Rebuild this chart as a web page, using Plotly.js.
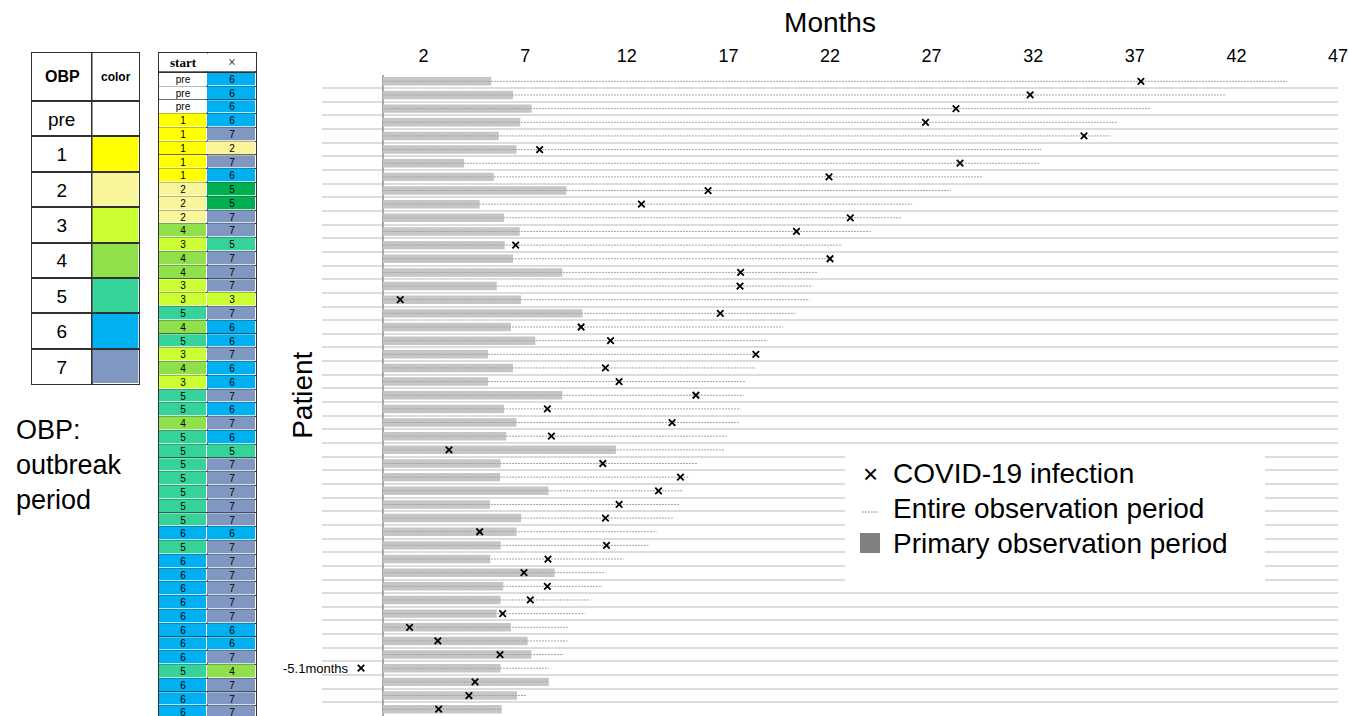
<!DOCTYPE html>
<html><head><meta charset="utf-8">
<script src="https://cdn.plot.ly/plotly-3.0.1.min.js"></script>
<style>html,body{margin:0;padding:0;background:#fff;overflow:hidden}#chart{width:1349px;height:716px}</style>
</head><body><div id="chart"></div>
<script>
// ---------- data ----------
const patients = [1,2,3,4,5,6,7,8,9,10,11,12,13,14,15,16,17,18,19,20,21,22,23,24,25,26,27,28,29,30,31,32,33,34,35,36,37,38,39,40,41,42,43,44,45,46,47];
// end of primary observation period (months)
const primaryEnd = [5.33,6.4,7.32,6.76,5.7,6.57,3.99,5.46,9.03,4.76,5.96,6.73,5.99,6.4,8.83,5.6,6.8,9.82,6.3,7.5,5.17,6.4,5.17,8.83,5.96,6.57,6.07,11.46,5.79,5.76,8.14,5.27,6.8,6.57,5.79,5.28,8.45,5.92,5.79,5.6,6.3,7.12,7.3,5.79,8.16,6.6,5.84];
// end of entire observation period (months)
const entireEnd = [44.5,41.5,37.8,36.15,35.8,32.4,32.3,29.5,27.95,26.05,25.5,24.0,22.6,22.1,21.4,21.15,21.0,20.3,19.7,18.93,18.4,18.34,17.85,17.76,17.6,17.57,16.94,16.83,15.48,15.07,14.78,14.61,14.27,13.46,13.07,11.84,10.95,10.8,10.21,9.92,9.11,9.08,8.9,8.17,8.16,7.06,5.84];
// month of COVID-19 infection (as plotted)
const infectionAt = [37.3,31.85,28.2,26.7,34.5,7.71,28.4,21.95,16.0,12.72,23.0,20.35,6.53,22.0,17.6,17.57,0.85,16.6,9.75,11.2,18.35,10.95,11.62,15.4,8.09,14.23,8.29,3.25,10.82,14.64,13.56,11.62,10.95,4.76,11.0,8.12,6.94,8.09,7.25,5.89,1.31,2.7,5.76,-1.08,4.53,4.23,2.74];
const infectionNotes = {44: '-5.1months'};
// outbreak period at start and at infection
const startOBP = ['pre','pre','pre','1','1','1','1','1','2','2','2','4','3','4','4','3','3','5','4','5','3','4','3','5','5','4','5','5','5','5','5','5','5','6','5','6','6','6','6','6','6','6','6','5','6','6','6'];
const infectionOBP = ['6','6','6','6','7','2','7','6','5','5','7','7','5','7','7','7','3','7','6','6','7','6','6','7','6','7','6','5','7','7','7','7','7','6','7','7','7','7','7','7','6','6','7','4','7','7','7'];
const infectionOBPDarkRows = [9, 10];
// OBP legend table
const obpLabels = ['pre','1','2','3','4','5','6','7'];
const obpColors = ['#ffffff','#ffff00','#f8f59b','#ccff33','#8fe04b','#35d399','#00b0f0','#8097c1'];
const darkGreen = '#00b050';
const monthTicks = [2,7,12,17,22,27,32,37,42,47];
const legendNames = ['COVID-19 infection','Entire observation period','Primary observation period'];

// ---------- helpers ----------
const W = 1349, H = 716;
const FONT = 'Liberation Sans, Arial, sans-serif';
const SERIF = 'Liberation Serif, Times New Roman, serif';
const px = v => v / W;
const py = v => 1 - v / H;
const palette = obpColors.concat([darkGreen]);
const cs = [];
palette.forEach((c, i) => { cs.push([i / palette.length, c]); cs.push([(i + 1) / palette.length, c]); });
const codeOf = l => obpLabels.indexOf(l);
const border = '#303030';

const hm = (o) => Object.assign({type:'heatmap', colorscale:cs, zmin:-0.5, zmax:palette.length-0.5,
  showscale:false, hoverinfo:'skip', showlegend:false, xgap:1, ygap:1,
  texttemplate:'%{text}', textfont:{family:FONT, size:10, color:'#000'}}, o);

const traces = [];
// primary observation bars
traces.push({type:'bar', orientation:'h', x:primaryEnd, y:patients, width:0.62, name:legendNames[2],
  marker:{color:'#c6c6c6', line:{width:0}}, showlegend:false, hoverinfo:'skip'});
// entire observation dotted lines
traces.push({type:'scatter', mode:'lines', name:legendNames[1],
  x: patients.flatMap((p,i)=>[0, entireEnd[i], null]),
  y: patients.flatMap(p=>[p, p, null]),
  line:{color:'#a4a4a4', width:1, dash:'2px,1px'}, showlegend:false, hoverinfo:'skip'});
// infection markers
traces.push({type:'scatter', mode:'markers', x:infectionAt, y:patients, name:legendNames[0],
  marker:{symbol:'x-thin', size:6.5, line:{width:1.8, color:'#000'}, color:'#000'},
  showlegend:false, cliponaxis:false});

// start table body
traces.push(hm({xaxis:'x2', yaxis:'y2', x:[0,1], y:patients,
  z: patients.map((p,i)=>[codeOf(startOBP[i]), infectionOBPDarkRows.includes(p) ? palette.length-1 : codeOf(infectionOBP[i])]),
  text: patients.map((p,i)=>[startOBP[i], infectionOBP[i]])}));
// start table header
traces.push(hm({xaxis:'x2', yaxis:'y3', x:[0,1], y:[0], z:[[0,0]], text:[['','']]}));
// OBP legend table
const obpIdx = obpLabels.map((l,i)=>i);
traces.push(hm({xaxis:'x4', yaxis:'y4', x:[0], y:obpIdx, z:obpLabels.map(()=>[0]), text:obpLabels.map(l=>[l]),
  ygap:2, textfont:{family:FONT, size:19, color:'#000'}}));
traces.push(hm({xaxis:'x5', yaxis:'y4', x:[0], y:obpIdx, z:obpIdx.map(i=>[i]), text:obpLabels.map(()=>['']), ygap:2}));
traces.push(hm({xaxis:'x4', yaxis:'y5', x:[0], y:[0], z:[[0]], text:[['']]}));
traces.push(hm({xaxis:'x5', yaxis:'y5', x:[0], y:[0], z:[[0]], text:[['']]}));

const tbl = (o) => Object.assign({showgrid:false, gridcolor:border, gridwidth:1, zeroline:false,
  showticklabels:false, ticks:'', showline:true, linecolor:border, linewidth:1, mirror:'all', fixedrange:true}, o);

const annotations = [];
Object.entries(infectionNotes).forEach(([p, txt]) => {
  annotations.push({x: infectionAt[p-1], y: +p, xref:'x', yref:'y', text: txt, showarrow:false,
    xanchor:'right', xshift:-10, font:{family:FONT, size:13, color:'#000'}});
});
annotations.push({xref:'x2', yref:'y3', x:0, y:0, text:'<b>start</b>', showarrow:false, font:{family:SERIF, size:13, color:'#000'}});
annotations.push({xref:'x2', yref:'y3', x:1, y:0, text:'×', showarrow:false, font:{family:SERIF, size:14, color:'#000'}});
annotations.push({xref:'x4', yref:'y5', x:0, y:0, text:'<b>OBP</b>', showarrow:false, font:{family:FONT, size:16, color:'#000'}});
annotations.push({xref:'x5', yref:'y5', x:0, y:0, text:'<b>color</b>', showarrow:false, font:{family:FONT, size:12, color:'#000'}});
annotations.push({xref:'paper', yref:'paper', x:px(14), y:py(465), xanchor:'left', yanchor:'middle', align:'left',
  text:'OBP:<br>outbreak<br>period', showarrow:false, font:{family:FONT, size:27, color:'#000'}});

// custom legend (box, symbols, labels)
const legTop = 473, legStep = 35;
const shapes = [];
shapes.push({type:'rect', xref:'paper', yref:'paper', x0:px(845), x1:px(1265), y0:py(453), y1:py(581),
  fillcolor:'#fff', line:{width:0}, layer:'above'});
legendNames.forEach((nm, i) => {
  annotations.push({xref:'paper', yref:'paper', x:px(891), y:py(legTop + i*legStep), xanchor:'left', yanchor:'middle',
    text:nm, showarrow:false, font:{family:FONT, size:28, color:'#000'}});
});
annotations.push({xref:'paper', yref:'paper', x:px(870), y:py(legTop + 1), xanchor:'center', yanchor:'middle',
  text:'×', showarrow:false, font:{family:FONT, size:26, color:'#000'}});
shapes.push({type:'line', xref:'paper', yref:'paper', x0:px(862), x1:px(878), y0:py(legTop + legStep + 4), y1:py(legTop + legStep + 4),
  line:{color:'#888', width:1, dash:'2px,1px'}, layer:'above'});
shapes.push({type:'rect', xref:'paper', yref:'paper', x0:px(860), x1:px(880), y0:py(legTop + 2*legStep - 10), y1:py(legTop + 2*legStep + 10),
  fillcolor:'#808080', line:{width:0}, layer:'above'});

const layout = {
  width:W, height:H, margin:{l:0, r:0, t:0, b:0},
  paper_bgcolor:'#fff', plot_bgcolor:'#fff',
  font:{family:FONT, color:'#000'},
  showlegend:false,
  xaxis:{domain:[px(322), px(1338)], range:[-3, 47], side:'top', anchor:'y', tickmode:'array', tickvals:monthTicks,
    ticks:'', ticklabelstandoff:8, tickfont:{size:18, color:'#000'}, showgrid:false, zeroline:true, zerolinecolor:'#a6a6a6', zerolinewidth:1.5,
    showline:false, fixedrange:true, title:{text:'Months', font:{size:28, color:'#000'}, standoff:5}},
  yaxis:{domain:[0, py(74.5)], range:[47.5, 0.5], anchor:'x', tickmode:'array',
    tickvals:[0.5].concat(patients.map(p=>p+0.5)), showticklabels:false, ticks:'', showgrid:true,
    gridcolor:'#dcdcdc', gridwidth:2, zeroline:false, showline:false, fixedrange:true,
    title:{text:'Patient', font:{size:28, color:'#000'}, standoff:0}},
  xaxis2: tbl({domain:[px(159), px(255.7)], range:[-0.5, 1.5], anchor:'y2', showgrid:true, tickmode:'array', tickvals:[0.5]}),
  yaxis2: tbl({domain:[0, py(72.3)], range:[(716-72.3)/13.77 + 0.5, 0.5], anchor:'x2', showgrid:true, tickmode:'array',
    tickvals: patients.map(p=>p+0.5)}),
  yaxis3: tbl({domain:[py(72.3), py(53.3)], range:[-0.5, 0.5], anchor:'x2'}),
  xaxis4: tbl({domain:[px(31.7), px(92.3)], range:[-0.5, 0.5], anchor:'y4'}),
  xaxis5: tbl({domain:[px(92.3), px(139.3)], range:[-0.5, 0.5], anchor:'y4'}),
  yaxis4: tbl({domain:[py(384.3), py(101)], range:[obpLabels.length-0.5, -0.5], anchor:'x4', showgrid:true, gridwidth:2, tickmode:'array',
    tickvals: obpIdx.map(i=>i+0.5)}),
  yaxis5: tbl({domain:[py(101), py(52.7)], range:[-0.5, 0.5], anchor:'x4'}),
  annotations, shapes
};

Plotly.newPlot('chart', traces, layout, {staticPlot:true, displayModeBar:false});
</script></body></html>
